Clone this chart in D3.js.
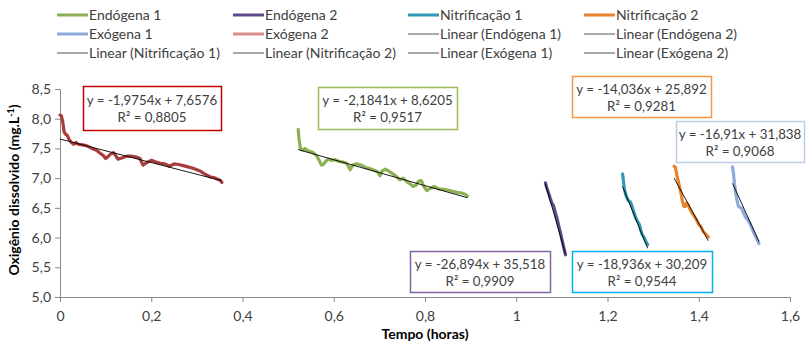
<!DOCTYPE html>
<html><head><meta charset="utf-8">
<script src="https://d3js.org/d3.v7.min.js"></script>
<style>body{margin:0;background:#fff}svg{display:block}text{font-family:Lato,"Open Sans",sans-serif}</style>
</head><body><svg id="c" width="806" height="350"></svg>
<script>
const seriesNames = ["Endógena 1","Endógena 2","Nitrificação 1","Nitrificação 2","Exógena 1","Exógena 2"];
const seriesColors = ["#8DB052","#5E4A8A","#3199B3","#E8822C","#8DA9DB","#A83C3A"];
const legendColors = ["#8DB052","#5E4A8A","#3199B3","#E8822C","#8DA9DB","#D98C8A"];
const endo1X = [0.522,0.524,0.527,0.53,0.533,0.537,0.542,0.548,0.555,0.562,0.568,0.573,0.577,0.582,0.588,0.595,0.603,0.612,0.62,0.628,0.632,0.636,0.642,0.65,0.66,0.67,0.68,0.69,0.697,0.701,0.706,0.713,0.72,0.728,0.737,0.745,0.752,0.76,0.768,0.774,0.78,0.786,0.792,0.798,0.804,0.812,0.82,0.83,0.84,0.85,0.86,0.87,0.88,0.888,0.893];
const endo1Y = [7.82,7.65,7.5,7.48,7.47,7.5,7.47,7.45,7.43,7.38,7.3,7.22,7.23,7.28,7.32,7.3,7.31,7.28,7.27,7.25,7.2,7.14,7.22,7.24,7.22,7.18,7.16,7.13,7.1,7.04,7.12,7.15,7.12,7.08,7.03,6.97,7.0,6.94,6.9,6.86,6.88,6.95,6.96,6.85,6.79,6.83,6.86,6.82,6.81,6.8,6.78,6.76,6.75,6.73,6.7];
const endo2X = [1.064,1.066,1.069,1.072,1.075,1.078,1.081,1.085,1.089,1.093,1.097,1.1,1.103,1.106,1.108];
const endo2Y = [6.92,6.86,6.79,6.72,6.65,6.58,6.55,6.44,6.33,6.2,6.08,5.97,5.87,5.77,5.71];
const nitr1X = [1.233,1.235,1.237,1.24,1.243,1.246,1.25,1.254,1.258,1.262,1.266,1.27,1.273,1.276,1.279,1.282,1.285,1.288];
const nitr1Y = [7.07,6.95,6.82,6.72,6.66,6.62,6.6,6.52,6.42,6.33,6.27,6.22,6.12,6.05,6.02,5.97,5.92,5.88];
const nitr2X = [1.346,1.349,1.352,1.355,1.358,1.361,1.364,1.367,1.37,1.373,1.376,1.38,1.385,1.39,1.395,1.4,1.405,1.41,1.415,1.418,1.421];
const nitr2Y = [7.2,7.18,7.05,6.95,6.85,6.75,6.62,6.53,6.52,6.58,6.56,6.49,6.42,6.36,6.3,6.22,6.18,6.1,6.06,6.03,6.01];
const exo1X = [1.474,1.476,1.478,1.481,1.484,1.487,1.49,1.494,1.498,1.502,1.507,1.512,1.517,1.522,1.527,1.532];
const exo1Y = [7.19,7.1,6.92,6.75,6.62,6.53,6.51,6.49,6.42,6.35,6.3,6.24,6.15,6.06,5.98,5.9];
const exo2X = [0,0.003,0.006,0.009,0.012,0.016,0.02,0.025,0.03,0.035,0.04,0.05,0.06,0.07,0.08,0.088,0.095,0.1,0.105,0.11,0.117,0.122,0.127,0.135,0.146,0.155,0.165,0.175,0.182,0.19,0.2,0.21,0.22,0.23,0.24,0.25,0.26,0.27,0.28,0.29,0.3,0.307,0.315,0.322,0.33,0.337,0.343,0.35,0.355];
const exo2Y = [8.06,8.05,7.95,7.78,7.74,7.72,7.65,7.6,7.57,7.6,7.57,7.56,7.54,7.5,7.47,7.42,7.38,7.33,7.36,7.4,7.43,7.38,7.32,7.34,7.37,7.37,7.36,7.33,7.22,7.26,7.3,7.27,7.25,7.24,7.2,7.24,7.23,7.21,7.19,7.17,7.14,7.12,7.08,7.05,7.02,7.01,6.99,6.97,6.93];
const slopes = [-2.1841,-26.894,-18.936,-14.036,-16.91,-1.9754];
const intercepts = [8.6205,35.518,30.209,25.892,31.838,7.6576];
const eqLabels = ["y = -2,1841x + 8,6205","y = -26,894x + 35,518","y = -18,936x + 30,209","y = -14,036x + 25,892","y = -16,91x + 31,838","y = -1,9754x + 7,6576"];
const r2Labels = ["R² = 0,9517","R² = 0,9909","R² = 0,9544","R² = 0,9281","R² = 0,9068","R² = 0,8805"];
const boxColors = ["#9BBB59","#8064A2","#00B0F0","#F79646","#B9CDE5","#C00000"];
const legendLabels = ["Endógena 1","Endógena 2","Nitrificação 1","Nitrificação 2","Exógena 1","Exógena 2","Linear (Endógena 1)","Linear (Endógena 2)","Linear (Nitrificação 1)","Linear (Nitrificação 2)","Linear (Exógena 1)","Linear (Exógena 2)"];
const xTicks = [0,0.2,0.4,0.6,0.8,1,1.2,1.4,1.6];
const yTicks = [5,5.5,6,6.5,7,7.5,8,8.5];

const xs = [endo1X,endo2X,nitr1X,nitr2X,exo1X,exo2X];
const ys = [endo1Y,endo2Y,nitr1Y,nitr2Y,exo1Y,exo2Y];

const svg = d3.select("#c");
const x = d3.scaleLinear().domain([0,1.6]).range([60,790]);
const y = d3.scaleLinear().domain([5,8.5]).range([297,89]);
const fmt = v => String(v).replace(".",",");
const fmtY = v => v.toFixed(1).replace(".",",");
const axisCol = "#888";
const txtCol = "#404040";

const gx = svg.append("g").attr("transform","translate(0,297)")
  .call(d3.axisBottom(x).tickValues(xTicks).tickFormat(fmt).tickSize(5).tickPadding(9));
const gy = svg.append("g").attr("transform","translate(60,0)")
  .call(d3.axisLeft(y).tickValues(yTicks).tickFormat(fmtY).tickSize(5).tickPadding(4));
[gx,gy].forEach(g=>{
  g.select(".domain").attr("stroke",axisCol);
  g.selectAll(".tick line").attr("stroke",axisCol);
  g.selectAll(".tick text").attr("fill",txtCol).style("font-size","14px").style("font-family","Lato");
});

const line = d3.line().x(d=>x(d[0])).y(d=>y(d[1]));
xs.forEach((arr,i)=>{
  const pts = arr.map((v,j)=>[v,ys[i][j]]);
  svg.append("path").attr("d",line(pts)).attr("fill","none")
    .attr("stroke",seriesColors[i]).attr("stroke-width",3.2).attr("stroke-linejoin","round").attr("stroke-linecap","round");
});
xs.forEach((arr,i)=>{
  const x0 = arr[0], x1 = arr[arr.length-1];
  svg.append("path").attr("d",line([[x0,slopes[i]*x0+intercepts[i]],[x1,slopes[i]*x1+intercepts[i]]]))
    .attr("fill","none").attr("stroke","#000").attr("stroke-width",0.9);
});

// equation boxes: [left, top, width, height]
const boxes = [[318,87,139,42],[410,251,140,41],[572,251,140,41],[572,76,139,41],[676,121,128,41],[83,86,138,44]];
boxes.forEach((b,i)=>{
  const g = svg.append("g");
  g.append("rect").attr("x",b[0]+0.5).attr("y",b[1]+0.5).attr("width",b[2]).attr("height",b[3])
    .attr("fill","#fff").attr("stroke",boxColors[i]).attr("stroke-width",1.5);
  const cx = b[0]+b[2]/2;
  g.append("text").attr("x",cx).attr("y",b[1]+b[3]/2-3).attr("text-anchor","middle").attr("fill",txtCol)
    .style("font-size","13.3px").text(eqLabels[i]);
  g.append("text").attr("x",cx).attr("y",b[1]+b[3]/2+14).attr("text-anchor","middle").attr("fill",txtCol)
    .style("font-size","13.3px").text(r2Labels[i]);
});

// legend
const colX = [57,233,408,584];
const rowY = [15,34,53];
legendLabels.forEach((lab,i)=>{
  const r = Math.floor(i/4), c = i%4;
  const lx = colX[c], ly = rowY[r];
  const isLin = i>=6;
  svg.append("line").attr("x1",lx).attr("x2",lx+31).attr("y1",ly).attr("y2",ly)
    .attr("stroke",isLin?"#555":legendColors[i]).attr("stroke-width",isLin?1:3);
  svg.append("text").attr("x",lx+32).attr("y",ly+5).attr("fill",txtCol).style("font-size","14px").text(lab);
});

// axis titles
svg.append("text").attr("x",425).attr("y",339).attr("text-anchor","middle").attr("fill","#000")
  .style("font-size","14px").style("font-weight","bold").text("Tempo (horas)");
const yt = svg.append("text").attr("transform","translate(19,190) rotate(-90)").attr("text-anchor","middle")
  .attr("fill","#000").style("font-size","14px").style("font-weight","bold");
yt.append("tspan").text("Oxigênio dissolvido (mg.L");
yt.append("tspan").attr("dy",-5).style("font-size","9px").text("-1");
yt.append("tspan").attr("dy",5).text(")");
</script></body></html>
